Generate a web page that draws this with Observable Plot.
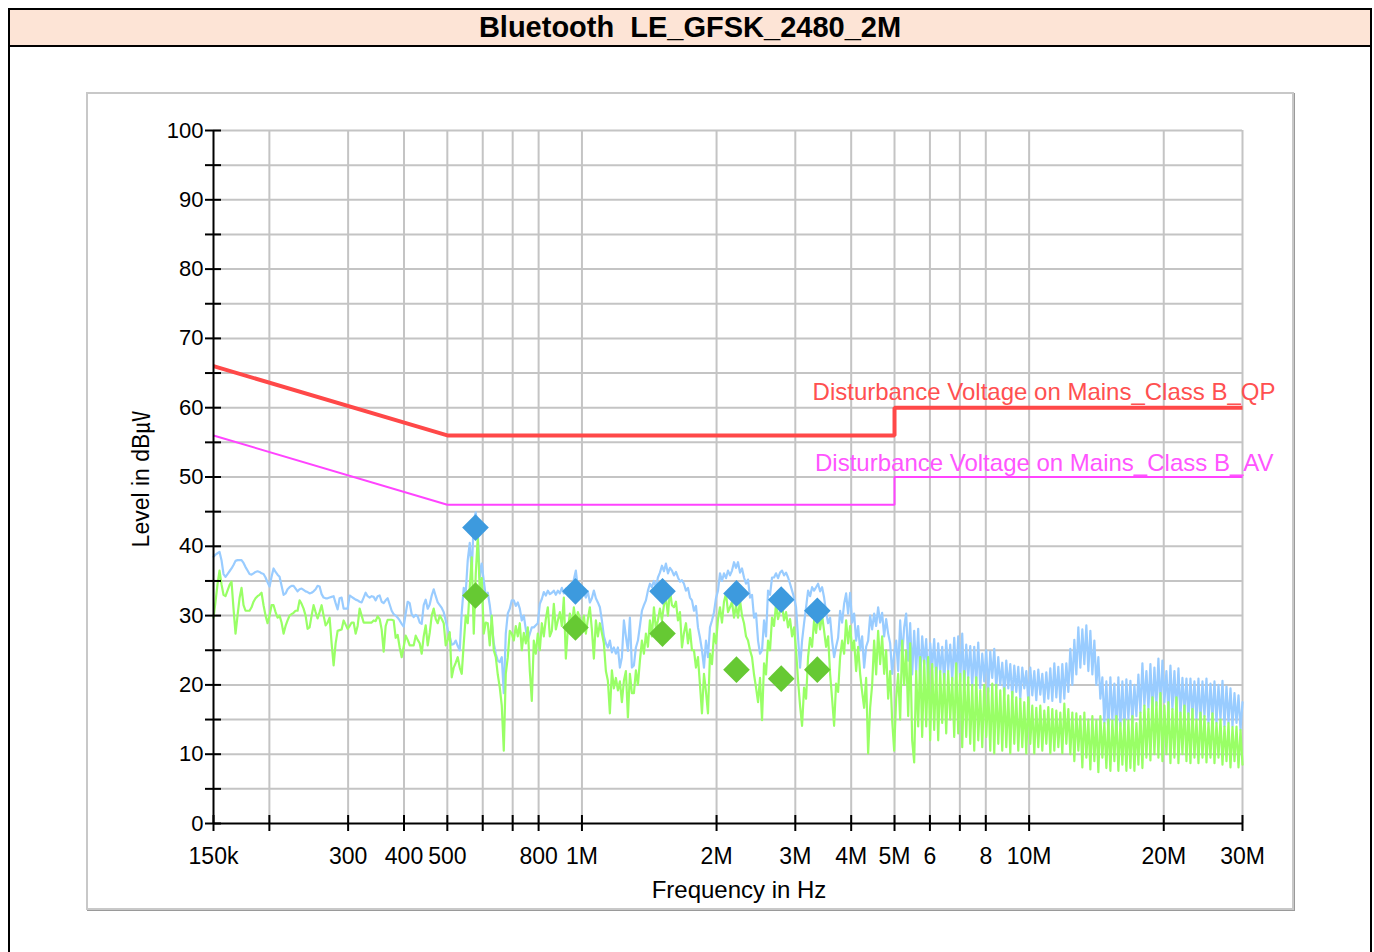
<!DOCTYPE html>
<html>
<head>
<meta charset="utf-8">
<script src="https://cdn.jsdelivr.net/npm/d3@7"></script>
<script src="https://cdn.jsdelivr.net/npm/@observablehq/plot@0.6"></script>
<style>
  html, body { margin: 0; padding: 0; background: #fff; width: 1374px; height: 952px; overflow: hidden;
    font-family: "Liberation Sans", Arial, "Noto Sans CJK KR", sans-serif; }
  #outer { position: absolute; left: 8px; top: 8px; width: 1364px; height: 1000px; border: 2px solid #000; box-sizing: border-box; }
  #titlebar { position: absolute; left: 10px; top: 10px; width: 1360px; height: 37px; background: #fde4d6;
    border-bottom: 2px solid #000; box-sizing: border-box; text-align: center; font-weight: bold; font-size: 29px;
    line-height: 35px; white-space: pre; color: #000; }
  #panel { position: absolute; left: 86px; top: 92px; width: 1208px; height: 818px; border: 2px solid #c8c8c8;
    box-shadow: 1px 1px 0 #9a9a9a; box-sizing: border-box; background: #fff; }
  #chart { position: absolute; left: 0; top: 0; }
  #xtitle { position: absolute; left: 539px; top: 878px; width: 400px; text-align: center; font-size: 24px; line-height: 24px; color: #000; }
  #ytitle { position: absolute; left: 29px; top: 467px; width: 224px; height: 24px; text-align: center; font-size: 23px; line-height: 24px;
    transform: rotate(-90deg); transform-origin: 112px 12px; color: #000; white-space: nowrap; }
</style>
</head>
<body>
<div id="outer"></div>
<div id="titlebar">Bluetooth  LE_GFSK_2480_2M</div>
<div id="panel"></div>
<div id="chart"></div>
<div id="xtitle">Frequency in Hz</div>
<div id="ytitle">Level in dB㎶</div>
<script>
// ---- sweep definition (receiver scan, MHz) ----
const sweepStartMHz = 0.15;
const sweepStopMHz = 30;

// ---- measured trace: peak detector (dBµV), one value per sweep point ----
const peakLevel = [
  38.5, 38.8, 39.0, 39.2, 38.0, 36.0, 35.6, 36.0, 36.4, 36.8,
  37.3, 37.9, 38.0, 38.0, 38.0, 37.6, 37.0, 36.5, 36.0, 35.9,
  36.1, 36.3, 36.4, 36.3, 36.1, 36.0, 35.5, 34.8, 34.2, 35.6,
  36.8, 36.3, 35.9, 35.6, 34.3, 33.0, 33.2, 33.8, 34.1, 34.3,
  34.3, 33.9, 33.5, 33.8, 33.9, 33.7, 33.5, 33.4, 33.2, 33.3,
  33.5, 33.8, 34.3, 34.2, 33.1, 32.6, 32.5, 32.5, 32.6, 32.7,
  32.8, 31.8, 30.9, 32.5, 32.6, 31.0, 31.0, 31.0, 32.9, 32.7,
  32.5, 32.3, 32.2, 32.0, 31.9, 32.6, 33.3, 32.8, 32.6, 32.8,
  32.7, 32.2, 32.8, 32.9, 32.0, 31.8, 32.2, 32.5, 31.6, 30.7,
  30.2, 30.0, 29.7, 29.3, 28.8, 28.4, 30.3, 32.0, 31.8, 30.2,
  29.8, 30.1, 29.9, 29.0, 28.8, 31.5, 32.3, 31.0, 31.6, 32.9,
  33.8, 32.8, 31.9, 31.5, 31.1, 30.5, 29.3, 28.0, 27.0, 25.8,
  25.9, 26.4, 25.6, 25.0, 30.5, 34.0, 33.3, 38.0, 40.5, 36.1,
  43.7, 44.9, 42.0, 35.5, 37.5, 35.0, 32.8, 33.3, 31.5, 29.0,
  26.0, 24.5, 23.5, 23.3, 24.0, 18.8, 27.4, 30.3, 31.0, 32.2,
  32.2, 31.4, 31.9, 31.0, 29.3, 30.0, 28.0, 26.4, 27.4, 28.3,
  28.3, 28.6, 28.9, 31.7, 32.4, 33.4, 32.9, 33.6, 33.1, 33.3,
  33.6, 33.0, 33.6, 33.2, 34.0, 33.2, 33.9, 33.5, 34.3, 34.0,
  35.2, 36.5, 34.0, 32.9, 33.6, 33.3, 32.6, 33.5, 31.9, 32.5,
  33.6, 32.5, 31.9, 31.2, 29.3, 27.0, 26.0, 25.4, 26.4, 24.7,
  25.4, 24.5, 25.4, 22.5, 24.0, 29.3, 27.0, 24.9, 29.7, 22.5,
  22.8, 25.4, 26.4, 28.5, 30.7, 31.5, 32.2, 33.6, 34.6, 34.1,
  35.0, 34.1, 35.5, 36.2, 37.2, 36.4, 37.5, 36.1, 36.9, 36.5,
  35.8, 36.3, 35.5, 34.9, 35.1, 34.6, 33.6, 34.0, 32.6, 32.2,
  30.7, 31.4, 28.3, 26.8, 25.0, 22.5, 26.4, 24.0, 28.3, 29.3,
  30.5, 32.5, 33.6, 36.1, 35.0, 36.1, 35.4, 36.5, 35.8, 36.5,
  37.7, 36.9, 37.7, 36.2, 36.8, 35.5, 34.6, 35.2, 32.6, 33.0,
  29.7, 30.3, 26.4, 24.5, 25.0, 29.3, 27.0, 33.6, 33.0, 35.5,
  35.5, 36.1, 35.4, 36.2, 36.5, 35.8, 36.2, 35.5, 34.6, 33.6,
  32.6, 31.2, 26.8, 22.5, 26.4, 28.9, 31.2, 33.6, 32.8, 34.1,
  33.6, 34.1, 34.6, 33.5, 34.1, 32.6, 30.5, 28.9, 29.7, 26.4,
  24.0, 25.5, 26.8, 30.7, 29.0, 31.7, 33.2, 30.3, 33.3, 29.0,
  30.3, 26.4, 28.5, 25.0, 27.0, 22.5, 25.5, 26.4, 30.0, 28.0,
  30.3, 28.5, 31.2, 29.0, 30.4, 27.0, 29.5, 27.4, 26.0, 21.6,
  24.5, 26.4, 22.0, 29.3, 24.0, 28.3, 30.3, 23.5, 28.9, 21.5,
  27.8, 22.0, 28.1, 20.6, 27.0, 23.0, 26.6, 20.2, 26.0, 22.5,
  26.6, 20.5, 26.0, 21.8, 25.5, 20.2, 26.4, 22.0, 25.8, 20.6,
  26.8, 21.0, 27.0, 20.5, 27.4, 19.5, 25.8, 21.0, 25.6, 19.8,
  25.5, 20.0, 26.1, 19.5, 24.5, 20.5, 25.0, 19.0, 24.8, 21.0,
  25.2, 19.5, 24.0, 20.0, 23.2, 18.5, 23.5, 19.5, 23.0, 18.2,
  22.8, 19.0, 22.6, 18.0, 22.5, 19.5, 22.0, 17.7, 22.5, 18.5,
  22.0, 17.8, 22.2, 18.6, 21.6, 17.5, 21.8, 18.0, 22.4, 17.7,
  23.1, 18.2, 22.6, 17.5, 23.0, 18.0, 23.1, 19.0, 25.2, 20.0,
  26.5, 21.5, 28.3, 22.5, 28.0, 23.0, 28.6, 22.0, 27.8, 21.5,
  26.4, 20.0, 24.0, 18.0, 21.1, 14.5, 20.5, 13.0, 21.1, 15.0,
  20.2, 12.5, 21.1, 14.0, 20.5, 13.5, 20.8, 15.0, 20.6, 14.5,
  20.0, 15.5, 21.5, 16.0, 23.1, 17.0, 22.0, 16.5, 23.0, 16.0,
  22.5, 17.0, 23.8, 16.5, 23.5, 17.5, 22.0, 16.0, 22.8, 16.5,
  22.0, 16.0, 22.4, 15.5, 21.0, 16.0, 20.9, 15.0, 20.9, 15.5,
  20.5, 15.0, 20.9, 14.5, 20.5, 15.5, 20.9, 14.5, 20.2, 15.0,
  20.5, 14.5, 20.0, 15.0, 20.6, 14.0, 19.8, 14.5, 19.5, 14.0,
  18.8, 14.5, 18.5, 13.5, 17.5
];

// ---- measured trace: average detector (dBµV) ----
const avgLevel = [
  29.7, 32.0, 34.5, 36.5, 34.5, 33.0, 32.8, 33.6, 34.4, 34.9,
  31.0, 27.4, 30.0, 32.5, 34.0, 31.5, 30.7, 30.7, 30.7, 31.2,
  32.0, 32.5, 32.8, 33.0, 33.3, 31.5, 30.0, 28.9, 30.0, 31.5,
  31.5, 30.5, 29.7, 30.0, 29.0, 27.4, 28.5, 29.3, 30.0, 30.2,
  30.4, 30.7, 30.7, 32.2, 31.7, 31.0, 30.0, 28.1, 28.3, 30.0,
  31.5, 30.5, 29.6, 30.5, 31.5, 30.0, 28.6, 29.0, 29.7, 26.0,
  22.8, 26.0, 27.8, 27.9, 28.0, 29.3, 28.7, 28.1, 28.5, 29.0,
  29.0, 27.4, 28.5, 31.0, 30.0, 29.0, 29.0, 29.0, 29.0, 29.0,
  29.3, 29.2, 29.9, 29.5, 28.0, 24.8, 28.5, 29.4, 29.4, 29.4,
  29.3, 26.8, 27.2, 25.4, 24.0, 25.5, 27.1, 26.5, 25.7, 25.7,
  25.7, 27.1, 26.5, 26.0, 24.5, 27.0, 28.6, 25.7, 27.5, 30.0,
  31.0, 29.5, 28.9, 30.0, 29.5, 28.9, 25.7, 26.5, 27.6, 21.1,
  22.5, 23.2, 24.0, 22.5, 21.6, 26.0, 30.0, 28.9, 34.1, 38.4,
  27.4, 36.0, 41.3, 33.6, 35.4, 27.4, 29.0, 28.9, 25.7, 30.0,
  25.0, 24.0, 21.5, 19.6, 17.0, 10.5, 21.6, 24.0, 27.8, 27.4,
  26.4, 28.5, 27.0, 28.9, 25.0, 27.5, 26.0, 28.3, 22.0, 17.7,
  26.4, 24.5, 27.4, 25.0, 28.9, 27.0, 29.5, 31.2, 27.0, 27.8,
  31.7, 28.0, 29.3, 30.5, 28.5, 32.6, 23.8, 28.0, 30.3, 28.5,
  31.2, 29.0, 30.5, 29.7, 28.0, 30.0, 27.4, 29.5, 31.2, 28.0,
  23.8, 29.3, 27.0, 28.9, 27.5, 26.0, 22.0, 20.6, 15.9, 22.1,
  19.5, 21.0, 19.2, 20.5, 17.5, 20.6, 22.0, 15.3, 21.6, 18.8,
  18.8, 22.1, 20.0, 23.5, 26.4, 24.5, 27.4, 25.5, 29.3, 27.0,
  31.2, 28.0, 29.3, 31.0, 29.3, 31.5, 32.6, 30.0, 33.6, 31.5,
  31.2, 32.0, 29.3, 30.5, 25.4, 27.5, 28.9, 26.0, 28.0, 25.0,
  25.0, 22.5, 24.0, 20.0, 15.9, 21.6, 19.0, 15.9, 24.5, 23.0,
  27.4, 26.0, 29.5, 31.2, 29.0, 32.0, 33.2, 30.5, 31.2, 32.0,
  29.7, 31.5, 29.7, 32.2, 30.0, 28.9, 27.0, 26.4, 25.0, 24.0,
  21.5, 19.6, 17.5, 21.0, 14.9, 23.1, 21.5, 26.4, 25.0, 29.7,
  28.5, 31.7, 29.5, 30.7, 31.5, 29.3, 30.5, 28.3, 29.5, 27.0,
  28.3, 25.0, 20.6, 17.0, 14.1, 19.6, 18.0, 24.0, 26.8, 25.5,
  29.3, 27.5, 30.3, 28.0, 30.0, 27.8, 25.5, 27.0, 21.6, 18.0,
  14.1, 20.2, 19.0, 24.0, 26.4, 24.5, 29.3, 26.0, 28.5, 25.0,
  26.4, 22.0, 25.5, 21.6, 19.0, 16.7, 21.0, 10.1, 16.7, 20.0,
  26.4, 21.5, 27.8, 23.0, 27.0, 21.6, 25.0, 18.0, 22.0, 14.9,
  10.5, 18.0, 21.6, 15.0, 26.4, 20.0, 25.0, 15.5, 26.0, 12.0,
  8.8, 22.0, 14.0, 24.0, 12.5, 23.5, 14.0, 24.0, 12.0, 23.0,
  13.5, 22.5, 12.0, 22.0, 14.5, 21.6, 13.0, 22.0, 15.0, 21.0,
  12.5, 23.1, 13.0, 21.6, 11.0, 22.0, 12.5, 21.1, 11.5, 20.0,
  10.5, 21.1, 12.0, 19.2, 11.0, 20.0, 12.5, 19.5, 10.5, 20.2,
  10.1, 20.0, 11.5, 19.2, 10.5, 19.5, 11.0, 18.5, 10.1, 19.0,
  11.5, 18.2, 10.5, 18.0, 11.0, 17.5, 10.1, 18.2, 11.5, 17.0,
  10.1, 16.7, 11.0, 17.0, 10.5, 16.3, 11.5, 16.8, 10.1, 16.5,
  10.5, 16.3, 11.0, 16.0, 10.1, 17.3, 11.5, 16.5, 10.0, 16.0,
  9.0, 15.9, 10.5, 15.5, 8.1, 16.0, 9.5, 15.0, 7.8, 15.5,
  9.0, 14.9, 7.4, 15.5, 9.5, 14.5, 8.0, 15.0, 7.6, 14.9,
  9.0, 15.5, 7.6, 14.5, 8.5, 15.0, 7.6, 14.9, 8.0, 15.5,
  7.6, 14.5, 8.5, 16.0, 8.0, 17.0, 9.5, 16.5, 9.1, 18.2,
  10.0, 17.5, 9.5, 18.8, 9.0, 17.0, 10.0, 17.5, 8.7, 16.5,
  9.5, 18.2, 8.7, 16.0, 10.0, 17.0, 9.0, 15.9, 8.7, 16.5,
  9.5, 15.0, 8.7, 16.0, 9.5, 15.5, 8.8, 14.5, 9.5, 15.9,
  8.7, 14.5, 9.5, 15.0, 8.5, 14.0, 9.0, 14.5, 8.1, 13.9,
  9.0, 14.0, 8.1, 13.5, 8.5
];

// ---- final measurement markers ----
const markerFreqMHz = [0.578, 0.967, 1.514, 2.216, 2.79, 3.36];
const markerPeakLevel = [42.7, 33.5, 33.5, 33.2, 32.3, 30.7];
const markerAvgLevel = [32.9, 28.3, 27.4, 22.2, 20.9, 22.2];

// ---- limit lines ----
const qpLimitFreq = [0.15, 0.5, 5, 5, 30];
const qpLimitLevel = [66, 56, 56, 60, 60];
const avLimitFreq = [0.15, 0.5, 5, 5, 30];
const avLimitLevel = [56, 46, 46, 50, 50];
const qpLimitName = "Disturbance Voltage on Mains_Class B_QP";
const avLimitName = "Disturbance Voltage on Mains_Class B_AV";

// ---- axes ----
const xGridFreq = [0.2, 0.3, 0.4, 0.5, 0.6, 0.7, 0.8, 1, 2, 3, 4, 5, 6, 7, 8, 10, 20, 30];
const xTickFreq = [0.15, 0.2, 0.3, 0.4, 0.5, 0.6, 0.7, 0.8, 1, 2, 3, 4, 5, 6, 7, 8, 10, 20, 30];
const xLabelFreq = [0.15, 0.3, 0.4, 0.5, 0.8, 1, 2, 3, 4, 5, 6, 8, 10, 20, 30];
const xLabelText = ["150k", "300", "400", "500", "800", "1M", "2M", "3M", "4M", "5M", "6", "8", "10M", "20M", "30M"];
const yGridLevel = [5, 10, 15, 20, 25, 30, 35, 40, 45, 50, 55, 60, 65, 70, 75, 80, 85, 90, 95, 100];
const yTickLevel = [0, 5, 10, 15, 20, 25, 30, 35, 40, 45, 50, 55, 60, 65, 70, 75, 80, 85, 90, 95, 100];
const yLabelLevel = [0, 10, 20, 30, 40, 50, 60, 70, 80, 90, 100];

// sweep points are log-spaced between start and stop
const nPts = Math.min(peakLevel.length, avgLevel.length);
const sweepFreq = d3.range(nPts).map(i => sweepStartMHz * Math.pow(sweepStopMHz / sweepStartMHz, i / (nPts - 1)));
const idx = d3.range(nPts);
const mIdx = d3.range(markerFreqMHz.length);
const qpIdx = d3.range(qpLimitFreq.length);
const avIdx = d3.range(avLimitFreq.length);
const xlIdx = d3.range(xLabelFreq.length);

const gridColor = "#c4c4c4";

const chart = Plot.plot({
  width: 1374,
  height: 952,
  marginLeft: 213,
  marginRight: 132,
  marginTop: 130,
  marginBottom: 129,
  x: {type: "log", domain: [sweepStartMHz, sweepStopMHz], axis: null},
  y: {domain: [0, 100]},
  style: {background: "transparent", overflow: "visible", fontFamily: "'Liberation Sans', Arial, sans-serif", color: "#000"},
  marks: [
    Plot.gridX({ticks: xGridFreq, stroke: gridColor, strokeOpacity: 1, strokeWidth: 2}),
    Plot.gridY({ticks: yGridLevel, stroke: gridColor, strokeOpacity: 1, strokeWidth: 2}),
    Plot.line(idx, {x: i => sweepFreq[i], y: i => peakLevel[i], stroke: "#99ccff", strokeWidth: 2.2}),
    Plot.line(idx, {x: i => sweepFreq[i], y: i => avgLevel[i], stroke: "#99ff66", strokeWidth: 2.2}),
    Plot.line(qpIdx, {x: i => qpLimitFreq[i], y: i => qpLimitLevel[i], stroke: "#ff4848", strokeWidth: 4, strokeLinejoin: "miter", strokeLinecap: "butt"}),
    Plot.line(avIdx, {x: i => avLimitFreq[i], y: i => avLimitLevel[i], stroke: "#ff44ff", strokeWidth: 2, strokeLinejoin: "miter", strokeLinecap: "butt"}),
    Plot.ruleX([sweepStartMHz], {stroke: "#000", strokeWidth: 2}),
    Plot.ruleY([0], {stroke: "#000", strokeWidth: 2}),
    Plot.ruleX(xTickFreq, {x: d => d, y1: 0, y2: 0, insetTop: 8, insetBottom: 8, stroke: "#000", strokeWidth: 2}),
    Plot.ruleY(yTickLevel, {y: d => d, x1: sweepStartMHz, x2: sweepStartMHz, insetLeft: 8, insetRight: 8, stroke: "#000", strokeWidth: 2}),
    Plot.text(xlIdx, {x: i => xLabelFreq[i], y: () => 0, text: i => xLabelText[i], dy: 33, fontSize: 23, fill: "#000", textAnchor: "middle"}),
    Plot.axisY({ticks: yLabelLevel, tickSize: 0, tickPadding: 10, fontSize: 22, label: null, fill: "#000"}),
    Plot.dot(mIdx, {x: i => markerFreqMHz[i], y: i => markerPeakLevel[i], symbol: "diamond2", r: 12, fill: "#3d9ade", stroke: "none"}),
    Plot.dot(mIdx, {x: i => markerFreqMHz[i], y: i => markerAvgLevel[i], symbol: "diamond2", r: 12, fill: "#66c933", stroke: "none"}),
    Plot.text([qpLimitName], {x: () => qpLimitFreq[qpLimitFreq.length - 1], y: () => qpLimitLevel[qpLimitLevel.length - 1], text: d => d,
      textAnchor: "end", dx: 33, dy: -15, fill: "#ff5050", fontSize: 24}),
    Plot.text([avLimitName], {x: () => avLimitFreq[avLimitFreq.length - 1], y: () => avLimitLevel[avLimitLevel.length - 1], text: d => d,
      textAnchor: "end", dx: 31, dy: -14, fill: "#ff55ff", fontSize: 24})
  ]
});
document.getElementById("chart").appendChild(chart);
</script>
</body>
</html>
